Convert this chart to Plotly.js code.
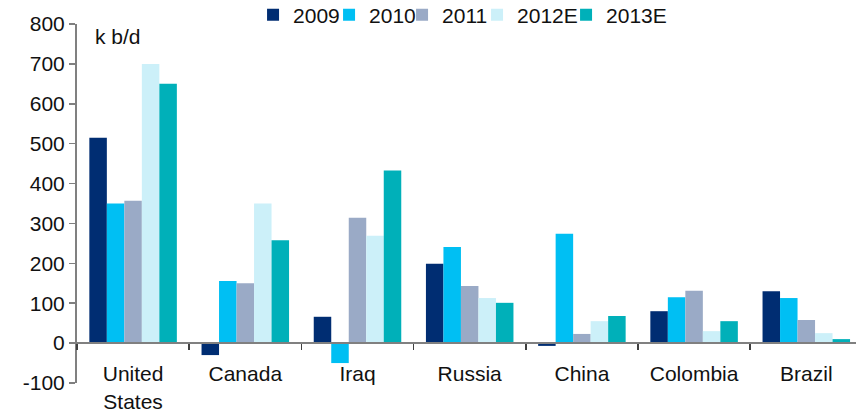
<!DOCTYPE html>
<html>
<head>
<meta charset="utf-8">
<script src="https://cdn.plot.ly/plotly-3.0.1.min.js"></script>
<style>html,body{margin:0;padding:0;background:#fff;}#chart{width:856px;height:414px;}</style>
</head>
<body>
<div id="chart"></div>
<script>
const categories = ["United<br>States", "Canada", "Iraq", "Russia", "China", "Colombia", "Brazil"];
const seriesNames = ["2009", "2010", "2011", "2012E", "2013E"];
const v2009  = [515, -30, 66, 199, -7, 80, 130];
const v2010  = [350, 156, -50, 241, 274, 115, 113];
const v2011  = [357, 150, 314, 143, 23, 131, 58];
const v2012E = [700, 350, 269, 113, 55, 30, 25];
const v2013E = [650, 258, 433, 101, 68, 55, 10];
const yTicks = [-100, 0, 100, 200, 300, 400, 500, 600, 700, 800];
const unitLabel = "k b/d";

const values = [v2009, v2010, v2011, v2012E, v2013E];
const colors = ["#002D72", "#00BFF3", "#9AAAC6", "#CCF0F9", "#00B0B9"];
const legendWidths = [31, 28, 30, 44, 60];

const traces = values.map((vals, i) => ({
  type: "bar",
  name: seriesNames[i],
  x: categories,
  y: vals,
  marker: {color: colors[i], line: {width: 0}},
  legendwidth: legendWidths[i],
  hoverinfo: "x+y+name"
}));

const font = {family: "'Liberation Sans', Arial, sans-serif", size: 21, color: "#111"};

const layout = {
  width: 856,
  height: 414,
  margin: {l: 77, r: 0, t: 24, b: 31, pad: 0, autoexpand: false},
  paper_bgcolor: "#fff",
  plot_bgcolor: "#fff",
  font: font,
  barmode: "group",
  bargap: 0.22,
  bargroupgap: 0,
  showlegend: true,
  legend: {
    orientation: "h",
    x: 0.226, xanchor: "left",
    y: 1.025, yanchor: "middle",
    font: font,
    bgcolor: "rgba(0,0,0,0)",
    traceorder: "normal"
  },
  xaxis: {
    type: "category",
    range: [-0.5, 6.443],
    anchor: "free",
    position: 100 / 900,
    showline: true,
    linecolor: "#808080",
    linewidth: 2,
    ticks: "outside",
    tickson: "boundaries",
    ticklen: 6,
    tickwidth: 1.5,
    tickcolor: "#404040",
    ticklabelstandoff: 12,
    showgrid: false,
    zeroline: false,
    automargin: false,
    tickfont: font
  },
  yaxis: {
    range: [-100, 800],
    tickvals: yTicks,
    ticktext: yTicks.map(String),
    showline: true,
    linecolor: "#808080",
    linewidth: 2,
    ticks: "outside",
    ticklen: 6,
    tickwidth: 1.5,
    tickcolor: "#808080",
    showgrid: false,
    zeroline: false,
    automargin: false,
    tickfont: font
  },
  annotations: [{
    text: unitLabel,
    xref: "paper", yref: "paper",
    x: 0.0205, y: 0.9638,
    xanchor: "left", yanchor: "middle",
    showarrow: false,
    font: font
  }]
};

Plotly.newPlot("chart", traces, layout, {displayModeBar: false, staticPlot: true});
</script>
</body>
</html>
